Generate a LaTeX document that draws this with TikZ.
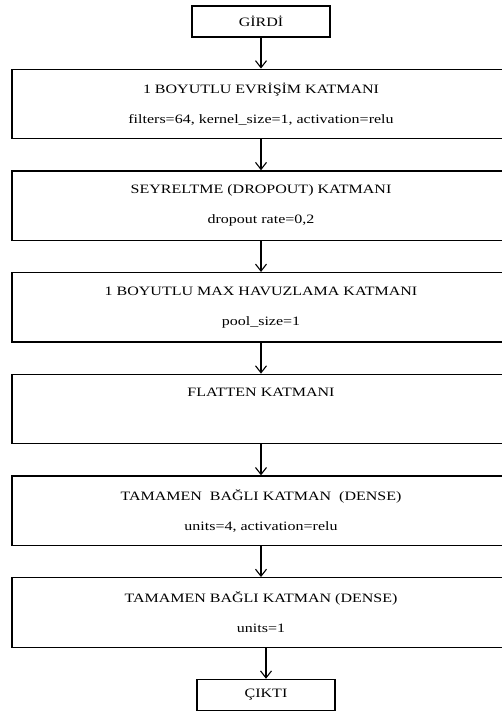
\documentclass[tikz,border=0pt]{standalone}
\usepackage{fontspec}
\setmainfont{Liberation Serif}[FakeStretch=1.25]
\usetikzlibrary{arrows.meta, positioning}

\begin{document}
\begin{tikzpicture}[x=1pt, y=1pt, font=\fontsize{12.8}{15}\selectfont,
  node distance=30.9pt,
  endbox/.style={draw, line width=1.3pt, minimum width=138pt, minimum height=31pt, inner sep=0pt},
  layer/.style={draw, line width=1.3pt, minimum width=498pt, minimum height=69.5pt, align=center, inner sep=0pt},
  flow/.style={-{Straight Barb[length=7pt, width=11pt]}, line width=1.1pt}]
  \useasboundingbox (0,0) rectangle (501,-714);
  % Input box
  \node[endbox] (girdi) at (261,-21.5) {GİRDİ};
  % Layers
  \node[layer, below=of girdi] (conv)
    {1 BOYUTLU EVRİŞİM KATMANI\\[15pt] filters=64, kernel\_size=1, activation=relu};
  \node[layer, below=of conv] (dropout)
    {SEYRELTME (DROPOUT) KATMANI\\[15pt] dropout rate=0,2};
  \node[layer, below=of dropout] (maxpool)
    {1 BOYUTLU MAX HAVUZLAMA KATMANI\\[15pt] pool\_size=1};
  \node[layer, below=of maxpool] (flatten)
    {FLATTEN KATMANI\\[15pt] \phantom{p}};
  \node[layer, below=of flatten] (dense1)
    {TAMAMEN\ \ BAĞLI KATMAN\ \ (DENSE)\\[15pt] units=4, activation=relu};
  \node[layer, below=of dense1] (dense2)
    {TAMAMEN BAĞLI KATMAN (DENSE)\\[15pt] units=1};
  % Output box
  \node[endbox, below=of dense2, xshift=5pt] (cikti) {ÇIKTI};
  % Arrows
  \draw[flow] (girdi) -- (conv);
  \draw[flow] (conv) -- (dropout);
  \draw[flow] (dropout) -- (maxpool);
  \draw[flow] (maxpool) -- (flatten);
  \draw[flow] (flatten) -- (dense1);
  \draw[flow] (dense1) -- (dense2);
  \draw[flow] (dense2.south -| cikti.north) -- (cikti.north);
\end{tikzpicture}
\end{document}
